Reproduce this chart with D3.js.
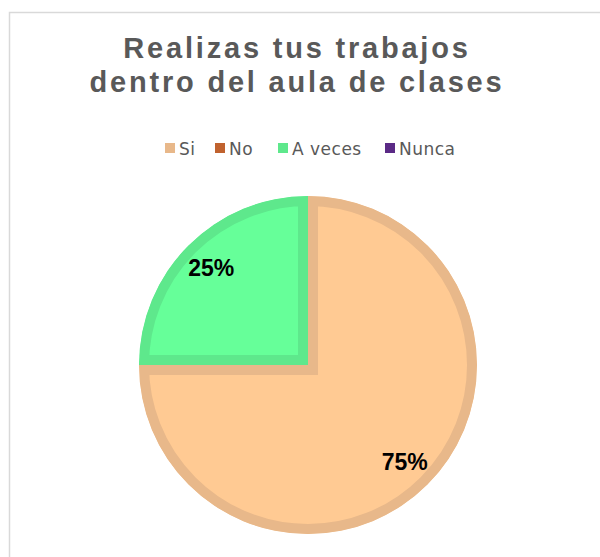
<!DOCTYPE html>
<html>
<head>
<meta charset="utf-8">
<script src="https://cdn.jsdelivr.net/npm/d3@7"></script>
<style>
  body { margin: 0; background: #fff; }
  svg { display: block; }
</style>
</head>
<body>
<div id="grafPie"></div>
<script>
// datos
const categorias = ["Si", "No", "A veces", "Nunca"]
const valores = [75, 0, 25, 0]
const coloresRelleno = ["#FFCA93", "#C0622F", "#66FF99", "#5B2A86"]
const coloresBorde = ["#E8B88A", "#C0622F", "#5EE88C", "#5B2A86"]
const titulo = ["Realizas tus trabajos", "dentro del aula de clases"]

const ancho = 600
const alto = 557

const svg = d3.select("#grafPie")
  .append("svg")
  .attr("width", ancho)
  .attr("height", alto)

// marco del grafico
svg.append("rect")
  .attr("x", 9.5)
  .attr("y", 12.5)
  .attr("width", 620)
  .attr("height", 580)
  .attr("fill", "none")
  .attr("stroke", "#d9d9d9")
  .attr("stroke-width", 1.5)

// titulo
svg.append("text")
  .attr("text-anchor", "middle")
  .attr("font-family", "Liberation Sans, Arial, sans-serif")
  .attr("font-weight", "bold")
  .attr("font-size", 29)
  .attr("letter-spacing", 2.8)
  .attr("fill", "#595959")
  .selectAll("tspan")
  .data(titulo)
  .join("tspan")
  .attr("x", 297)
  .attr("y", (d, i) => 58 + i * 34)
  .text(d => d)

// leyenda
const legX = [165, 215, 278, 385]
const leyenda = svg.append("g").attr("font-family", "'DejaVu Sans', sans-serif")
const itemsLey = leyenda.selectAll("g")
  .data(categorias)
  .join("g")
  .attr("transform", (d, i) => `translate(${legX[i]}, 143)`)
itemsLey.append("rect")
  .attr("width", 10)
  .attr("height", 10)
  .attr("fill", (d, i) => coloresBorde[i])
itemsLey.append("text")
  .attr("x", 14)
  .attr("y", 12)
  .attr("font-size", 17)
  .attr("letter-spacing", 0.5)
  .attr("fill", "#595959")
  .text(d => d)

// pastel
const cx = 308, cy = 365, radio = 169
const pie = d3.pie().sort(null).value(d => d)
const arco = d3.arc().innerRadius(0).outerRadius(radio)
const datosPie = pie(valores).filter(d => d.value > 0)

const gPie = svg.append("g").attr("transform", `translate(${cx}, ${cy})`)
const defs = svg.append("defs")

datosPie.forEach((d, k) => {
  defs.append("clipPath")
    .attr("id", "clip" + k)
    .append("path")
    .attr("d", arco(d))
  gPie.append("path")
    .attr("d", arco(d))
    .attr("fill", coloresRelleno[d.index])
    .attr("stroke", coloresBorde[d.index])
    .attr("stroke-width", 20)
    .attr("clip-path", `url(#clip${k})`)
})

// etiquetas de porcentaje
const arcoEtiq = d3.arc().innerRadius(radio * 0.81).outerRadius(radio * 0.81)
const total = d3.sum(valores)
gPie.selectAll("text.etq")
  .data(datosPie)
  .join("text")
  .attr("class", "etq")
  .attr("transform", d => {
    const c = arcoEtiq.centroid(d)
    return `translate(${c[0]}, ${c[1]})`
  })
  .attr("text-anchor", "middle")
  .attr("dy", "0.36em")
  .attr("font-family", "Liberation Sans, Arial, sans-serif")
  .attr("font-weight", "bold")
  .attr("font-size", 23)
  .attr("fill", "#000")
  .text(d => Math.round(d.value / total * 100) + "%")
</script>
</body>
</html>
